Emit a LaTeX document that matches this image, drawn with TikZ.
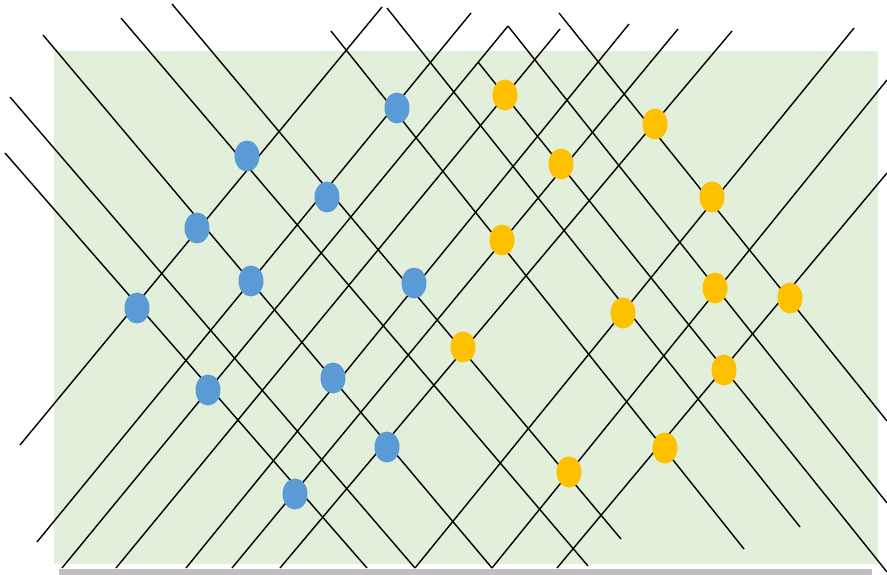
\documentclass[tikz,border=0pt]{standalone}
\usetikzlibrary{shapes.geometric}
\definecolor{bgGreen}{HTML}{E2EFDA}
\definecolor{barGray}{HTML}{BFBFBF}
\definecolor{dotBlue}{HTML}{5B9BD5}
\definecolor{dotGold}{HTML}{FFC000}
\begin{document}
\begin{tikzpicture}[x=0.02cm, y=-0.02cm,
  dot/.style={ellipse, inner sep=0pt, minimum width=0.5cm, minimum height=0.62cm},
  ray/.style={line width=0.8pt, black}]
  % 画布范围（与原图像素一致，y 轴向下）
  \useasboundingbox (0,0) rectangle (887,575);

  % 背景矩形与底边灰条
  \fill[bgGreen] (54,51) rectangle (878,564);
  \fill[barGray] (59,569) rectangle (872,575);

  % 左上到右下的斜线
  \foreach \xa/\ya/\xb/\yb in {5/153/367/568, 10/97/415/568, 43/35/492/568,
      121/18/588/566, 172/4/621/539, 331/31/744/549, 387/8/800/527,
      478/62/887/572, 508/26/887/503, 559/13/887/421}
    \draw[ray] (\xa,\ya) -- (\xb,\yb);

  % 左下到右上的斜线
  \foreach \xa/\ya/\xb/\yb in {20/445/382/7, 37/542/471/13, 62/568/508/26,
      116/568/560/29, 186/568/629/24, 232/568/678/29, 280/568/732/31,
      415/568/854/28, 492/568/887/80, 557/568/887/173}
    \draw[ray] (\xa,\ya) -- (\xb,\yb);

  % 蓝点
  \foreach \n/\x/\y in {1/397/108, 2/247/156, 3/327/197, 4/197/228, 5/251/281,
      6/137/308, 7/414/283, 8/208/390, 9/333/378, 10/387/447, 11/295/494}
    \node[dot, fill=dotBlue] (b\n) at (\x,\y) {};

  % 黄点
  \foreach \n/\x/\y in {1/505/95, 2/655/124, 3/561/164, 4/712/197, 5/502/240,
      6/715/288, 7/790/298, 8/623/313, 9/463/347, 10/724/370, 11/665/448,
      12/569/472}
    \node[dot, fill=dotGold] (y\n) at (\x,\y) {};
\end{tikzpicture}
\end{document}
